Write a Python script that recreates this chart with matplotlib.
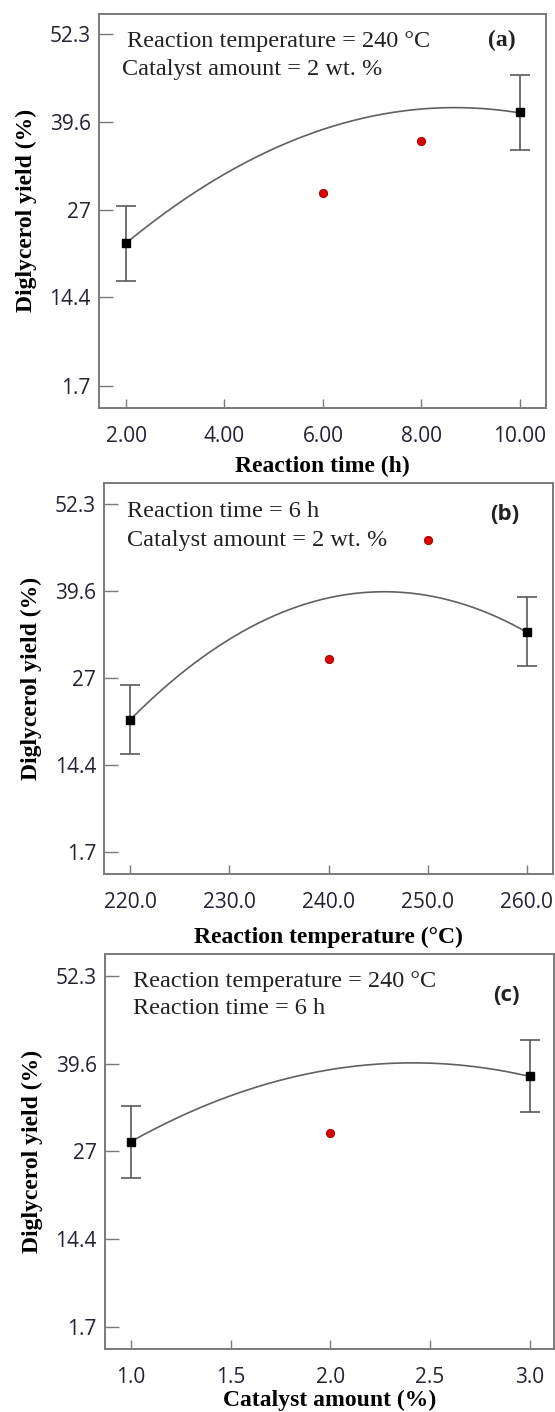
import numpy as np
import matplotlib
matplotlib.use("Agg")
import matplotlib.pyplot as plt

# values
y_ticks = [1.7, 14.4, 27, 39.6, 52.3]
y_ticklabels = ["1.7", "14.4", "27", "39.6", "52.3"]

# (a) reaction time
time_x = [2.0, 10.0]
time_y = [22.2, 41.1]
time_err = [5.4, 5.4]
time_center_x = [6.0, 8.0]
time_center_y = [29.4, 36.9]
time_curve_x = [2.0, 4.0, 6.0, 8.0, 10.0]
time_curve_y = [22.2, 32.2, 38.6, 41.5, 41.0]
time_ticks = [2.0, 4.0, 6.0, 8.0, 10.0]

# (b) reaction temperature
temp_x = [220.0, 260.0]
temp_y = [20.95, 33.7]
temp_err = [5.0, 5.0]
temp_center_x = [240.0, 250.0]
temp_center_y = [29.7, 47.0]
temp_curve_x = [220.0, 230.0, 240.0, 250.0, 260.0]
temp_curve_y = [20.95, 32.6, 38.65, 38.98, 33.65]
temp_ticks = [220.0, 230.0, 240.0, 250.0, 260.0]

# (c) catalyst amount
cat_x = [1.0, 3.0]
cat_y = [28.4, 37.9]
cat_err = [5.2, 5.2]
cat_center_x = [2.0]
cat_center_y = [29.7]
cat_curve_x = [1.0, 1.5, 2.0, 2.5, 3.0]
cat_curve_y = [28.4, 35.1, 38.7, 39.8, 37.8]
cat_ticks = [1.0, 1.5, 2.0, 2.5, 3.0]

serif = "Liberation Serif"
sans = "Open Sans"
spine_col = "#7a7a7a"
tick_col = "#222233"

fig = plt.figure(figsize=(5.55, 14.12), dpi=100)


def panel(rect, xs, ys, errs, cx, cy, curve_x, curve_y, ticks, tickfmt, xlim, ylim,
          xlabel, notes, note_x, note_y, tag, tag_pos, tag_font, labelpad):
    ax = fig.add_axes(rect)
    # fitted quadratic model through the curve points
    coef = np.polyfit(curve_x, curve_y, 2)
    xx = np.linspace(min(curve_x), max(curve_x), 200)
    ax.plot(xx, np.polyval(coef, xx), color="#606060", lw=1.2, zorder=2)
    ax.errorbar(xs, ys, yerr=errs, fmt="s", color="black", ms=6,
                ecolor="#5a5a5a", elinewidth=1.2, capsize=7.2, capthick=1.2, zorder=3)
    ax.plot(cx, cy, "o", color="#dd0000", mec="#990000", mew=0.6, ms=6, zorder=3)

    ax.set_xlim(*xlim)
    ax.set_ylim(*ylim)
    ax.set_xticks(ticks)
    ax.set_xticklabels([tickfmt % t for t in ticks])
    ax.set_yticks(y_ticks)
    ax.set_yticklabels(y_ticklabels)
    ax.tick_params(axis="y", direction="in", length=10, width=1.0, color=spine_col,
                   pad=6, labelsize=15, labelcolor=tick_col)
    ax.tick_params(axis="x", direction="in", length=6.7, width=1.0, color=spine_col,
                   pad=13, labelsize=15, labelcolor=tick_col)
    for lab in ax.get_xticklabels() + ax.get_yticklabels():
        lab.set_family(sans)
    for sp in ax.spines.values():
        sp.set_color(spine_col)
        sp.set_linewidth(1.4)

    ax.set_ylabel("Diglycerol yield (%)", family=serif, fontweight="bold", fontsize=17,
                  labelpad=9)
    ax.set_xlabel(xlabel, family=serif, fontweight="bold", fontsize=17, labelpad=labelpad)

    for i, t in enumerate(notes):
        ax.text(note_x[i], note_y[i], t, transform=ax.transAxes, family=serif,
                fontsize=17.5, color="#222222", ha="left", va="center")
    ax.text(tag_pos[0], tag_pos[1], tag, transform=ax.transAxes, ha="center", va="center",
            fontsize=16 if tag_font == sans else 17, fontweight="bold", family=tag_font,
            color="#222222")
    return ax


panel([0.1784, 0.7113, 0.805, 0.2788], time_x, time_y, time_err,
      time_center_x, time_center_y, time_curve_x, time_curve_y, time_ticks, "%.2f",
      (1.45, 10.53), (-1.48, 55.23), "Reaction time (h)",
      ["Reaction temperature = 240 °C", "Catalyst amount = 2 wt. %"],
      [0.0636, 0.0515], [0.9297, 0.8578], "(a)", (0.9015, 0.934), serif, 6.5)

panel([0.1881, 0.3808, 0.8077, 0.2769], temp_x, temp_y, temp_err,
      temp_center_x, temp_center_y, temp_curve_x, temp_curve_y, temp_ticks, "%.1f",
      (217.4, 262.6), (-1.49, 55.26), "Reaction temperature (°C)",
      ["Reaction time = 6 h", "Catalyst amount = 2 wt. %"],
      [0.0513, 0.0513], [0.9274, 0.855], "(b)", (0.892, 0.919), sans, 10)

panel([0.1892, 0.0444, 0.809, 0.2797], cat_x, cat_y, cat_err,
      cat_center_x, cat_center_y, cat_curve_x, cat_curve_y, cat_ticks, "%.1f",
      (0.8695, 3.122), (-1.56, 55.43), "Catalyst amount (%)",
      ["Reaction temperature = 240 °C", "Reaction time = 6 h"],
      [0.0617, 0.0617], [0.9306, 0.863], "(c)", (0.893, 0.897), sans, 1)

fig.savefig("out.png", dpi=100)
